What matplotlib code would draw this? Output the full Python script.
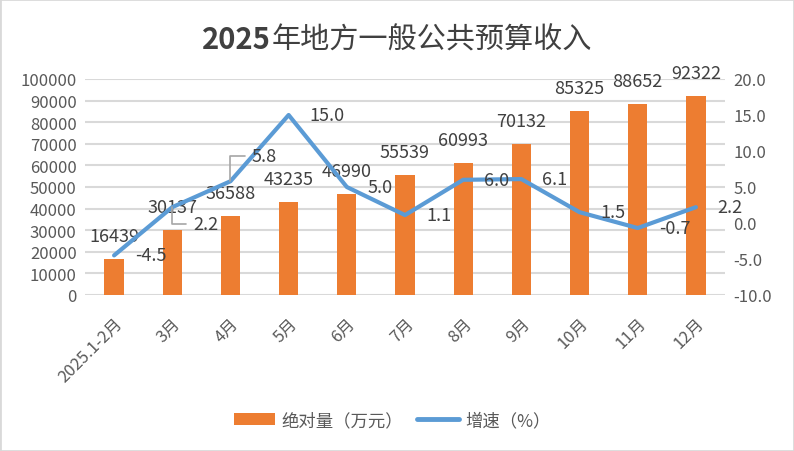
import numpy as np
import matplotlib.pyplot as plt
from matplotlib.patches import Rectangle, Patch
from matplotlib.lines import Line2D

plt.rcParams['font.family'] = ['Noto Sans CJK SC', 'DejaVu Sans']

months = ["2025.1-2月", "3月", "4月", "5月", "6月", "7月", "8月", "9月", "10月", "11月", "12月"]
amount = [16439, 30137, 36588, 43235, 46990, 55539, 60993, 70132, 85325, 88652, 92322]
growth = [-4.5, 2.2, 5.8, 15.0, 5.0, 1.1, 6.0, 6.1, 1.5, -0.7, 2.2]

bar_color = "#ED7D31"
line_color = "#5B9BD5"
tick_color = "#595959"
label_color = "#404040"

fig = plt.figure(figsize=(7.94, 4.52), dpi=100)
ax = fig.add_axes([85 / 794, 1 - 296 / 452, 640 / 794, 216 / 452])
ax2 = ax.twinx()

x = np.arange(len(months))
ax.bar(x, amount, width=0.33, color=bar_color, zorder=2)
ax.set_xlim(-0.5, len(months) - 0.5)
ax.set_ylim(0, 100000)
ax.set_yticks(np.arange(0, 100001, 10000))
ax.grid(axis='y', color="#D9D9D9", linewidth=1.5, zorder=0)
ax.set_axisbelow(True)

ax2.plot(x, growth, color=line_color, linewidth=3, solid_capstyle='round', zorder=3)
ax2.set_ylim(-10, 20)
ax2.set_yticks(np.arange(-10, 20.1, 5))
ax2.set_yticklabels([f"{v:.1f}" for v in np.arange(-10, 20.1, 5)])

for a in (ax, ax2):
    for s in a.spines.values():
        s.set_visible(False)
    a.tick_params(length=0, labelsize=12, labelcolor=tick_color)
ax.tick_params(axis='y', pad=6)
ax2.tick_params(axis='y', pad=6)

ax.set_xticks(x)
ax.set_xticklabels(months, rotation=45, ha='right', rotation_mode='anchor')
ax.tick_params(axis='x', pad=14)

# bar value labels
for xi, v in zip(x, amount):
    ax.annotate(str(v), (xi, v), xytext=(0, 23), textcoords='offset pixels',
                ha='center', va='center', fontsize=13, color=label_color, zorder=4)

# growth labels, two of them moved with leader lines
moved = {1: (21, -17), 2: (21, 25)}
for i, v in enumerate(growth):
    if i in moved:
        ax2.annotate(f"{v:.1f}", (i, v), xytext=moved[i], textcoords='offset pixels',
                     ha='left', va='center', fontsize=13, color=label_color, zorder=5,
                     arrowprops=dict(arrowstyle='-', color="#A6A6A6", lw=1.2,
                                     connectionstyle='angle,angleA=0,angleB=90,rad=0',
                                     relpos=(0, 0.5), shrinkA=3, shrinkB=0))
    else:
        ax2.annotate(f"{v:.1f}", (i, v), xytext=(21, 0), textcoords='offset pixels',
                     ha='left', va='center', fontsize=13, color=label_color, zorder=5)

# title: bold year, regular-weight Chinese part
renderer = fig.canvas.get_renderer()
t1 = fig.text(0, 0, "2025", fontsize=21, fontweight='bold', color=label_color)
t2 = fig.text(0, 0, "年地方一般公共预算收入", fontsize=21, color=label_color)
w1 = t1.get_window_extent(renderer).width
w2 = t2.get_window_extent(renderer).width
x0 = (794 - w1 - w2) / 2 / 794
ty = 1 - 37 / 452
t1.set_position((x0, ty))
t1.set_va('center_baseline')
t2.set_position((x0 + w1 / 794, ty))
t2.set_va('center_baseline')

handles = [Patch(facecolor=bar_color, edgecolor='none'),
           Line2D([0], [0], color=line_color, linewidth=3.5, solid_capstyle='round')]
fig.legend(handles, ["绝对量（万元）", "增速（%）"], loc='center',
           bbox_to_anchor=(392 / 794, 1 - 421 / 452), ncol=2, frameon=False,
           fontsize=12.5, labelcolor=tick_color, handlelength=2.4, handleheight=0.75,
           handletextpad=0.35, columnspacing=0.8)

fig.patches.append(Rectangle((0, 0), 1, 1, transform=fig.transFigure, fill=False,
                             edgecolor="#D9D9D9", linewidth=2))

fig.savefig("out.png", dpi=100)
